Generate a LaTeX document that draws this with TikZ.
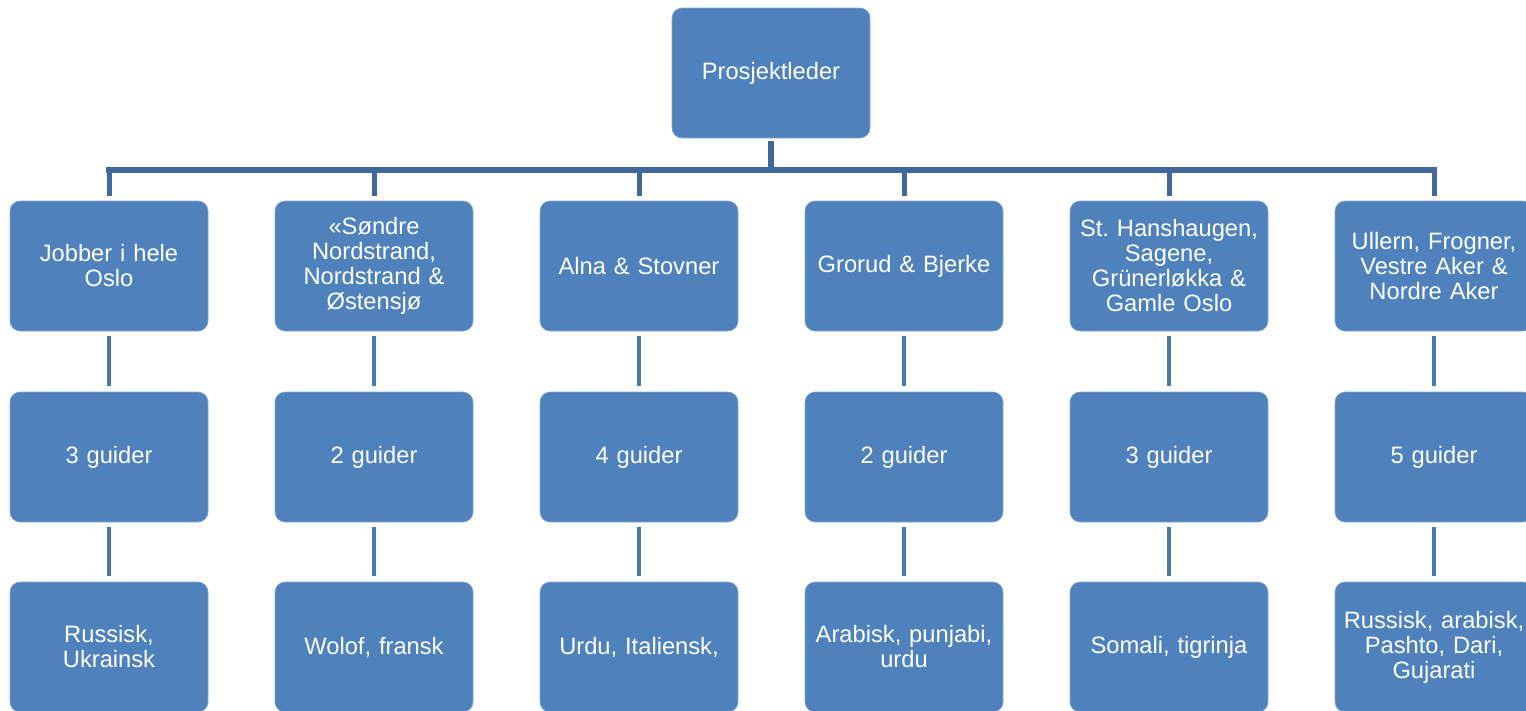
\documentclass[tikz,border=0pt]{standalone}
\usepackage{fontspec}
\setmainfont{Liberation Sans}
\frenchspacing
\definecolor{boxblue}{HTML}{4F81BD}
\definecolor{barblue}{HTML}{41689A}
\definecolor{linkblue}{HTML}{4A78B2}
\begin{document}
\begin{tikzpicture}[x=1pt,y=-1pt,
  orgbox/.style={rectangle, rounded corners=10pt, fill=boxblue, draw=boxblue!70!white, line width=0.6pt,
    minimum width=198pt, minimum height=130pt, text width=196pt, align=center, text=white,
    font=\frenchspacing\fontsize{23.7}{25}\selectfont, inner sep=1pt},
  barline/.style={draw=barblue, line width=6pt},
  dropline/.style={draw=barblue, line width=5pt, shorten >=5pt},
  linkline/.style={draw=linkblue, line width=4.5pt, shorten >=6pt, shorten <=5pt}]
\useasboundingbox (0,0) rectangle (1526,710);
\node[orgbox] (top) at (771,73) {Prosjektleder};
\node[orgbox] (a1) at (109,266) {Jobber i hele\\Oslo};
\node[orgbox] (a2) at (374,266) {«Søndre\\Nordstrand,\\Nordstrand \&\\Østensjø};
\node[orgbox] (a3) at (639,266) {Alna \& Stovner};
\node[orgbox] (a4) at (904,266) {Grorud \& Bjerke};
\node[orgbox] (a5) at (1169,266) {St. Hanshaugen,\\Sagene,\\Grünerløkka \&\\Gamle Oslo};
\node[orgbox] (a6) at (1434,266) {Ullern, Frogner,\\Vestre Aker \&\\Nordre Aker};
\node[orgbox] (b1) at (109,457) {3 guider};
\node[orgbox] (b2) at (374,457) {2 guider};
\node[orgbox] (b3) at (639,457) {4 guider};
\node[orgbox] (b4) at (904,457) {2 guider};
\node[orgbox] (b5) at (1169,457) {3 guider};
\node[orgbox] (b6) at (1434,457) {5 guider};
\node[orgbox] (d1) at (109,647) {Russisk,\\Ukrainsk};
\node[orgbox] (d2) at (374,647) {Wolof, fransk};
\node[orgbox] (d3) at (639,647) {Urdu, Italiensk,};
\node[orgbox] (d4) at (904,647) {Arabisk, punjabi,\\urdu};
\node[orgbox] (d5) at (1169,647) {Somali, tigrinja};
\node[orgbox] (d6) at (1434,647) {Russisk, arabisk,\\Pashto, Dari,\\Gujarati};
\coordinate (barL) at (106,170);
\coordinate (barR) at (1437,170);
\coordinate (barC) at (771,170);
\draw[barline] (barL) -- (barR);
\draw[barline, shorten <=3pt] (top.south) -- (barC);
\foreach \i in {1,...,6}{
  \draw[dropline] (a\i.north |- barC) -- (a\i.north);
  \draw[linkline] (a\i.south) -- (b\i.north);
  \draw[linkline] (b\i.south) -- (d\i.north);
}
\end{tikzpicture}
\end{document}
